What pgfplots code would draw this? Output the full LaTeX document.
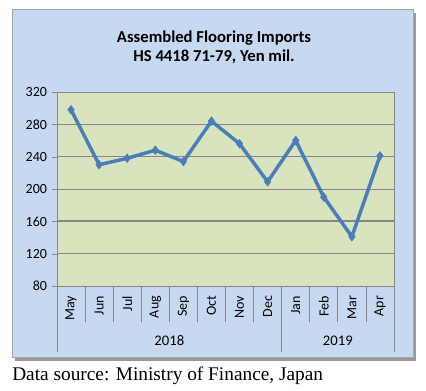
\documentclass[border=0pt]{standalone}
\usepackage{pgfplots}
\pgfplotsset{compat=1.18}
\usepackage{fontspec}
\setmainfont{Carlito}
\newfontfamily\serifsrc{Liberation Serif}
\definecolor{outerbg}{RGB}{198,217,241}
\definecolor{plotbg}{RGB}{215,228,189}
\definecolor{linec}{RGB}{74,126,187}
\definecolor{gridc}{RGB}{134,134,134}
\begin{document}
\begin{tikzpicture}[x=0.75pt,y=0.75pt]
\path[use as bounding box] (0,0) rectangle (426,391);
% shadow and outer box
\fill[gray!80] (15,30) rectangle (416,378);
\filldraw[fill=outerbg,draw=gray!70,line width=0.75pt] (12,33) rectangle (413,381);
\node[font=\bfseries\fontsize{12.5}{14}\selectfont,align=center] at (214,344) {Assembled Flooring Imports\\HS 4418 71-79, Yen mil.};
\begin{axis}[
  at={(42.75pt,78.75pt)}, anchor=south west,
  scale only axis, width=252.75pt, height=145.5pt,
  xmin=-0.5, xmax=11.5, ymin=80, ymax=320,
  ytick={80,120,...,320},
  xtick={0,...,11},
  xticklabels={May,Jun,Jul,Aug,Sep,Oct,Nov,Dec,Jan,Feb,Mar,Apr},
  x tick label style={rotate=90,anchor=east,font=\fontsize{10.5}{12}\selectfont},
  y tick label style={font=\fontsize{10.5}{12}\selectfont},
  /pgf/number format/assume math mode=true,
  major x tick style={draw=none},
  ytick style={draw=gridc},
  ytick pos=left,
  tick align=outside, major tick length=4pt,
  ymajorgrids, grid style={draw=gridc,line width=0.6pt},
  axis background/.style={fill=plotbg},
  axis line style={draw=gridc},
  clip=false,
]
\draw[gridc,line width=1.5pt] (axis cs:-0.5,160) -- (axis cs:11.5,160);
\pgfplotsinvokeforeach{0.5,1.5,2.5,3.5,4.5,5.5,6.5,8.5,9.5,10.5}{
  \draw[gridc,line width=0.5pt] (axis cs:#1,80) -- ([yshift=-27pt]axis cs:#1,80);
}
\pgfplotsinvokeforeach{-0.5,7.5,11.5}{
  \draw[gridc,line width=0.5pt] (axis cs:#1,80) -- ([yshift=-49.5pt]axis cs:#1,80);
}
\node[font=\fontsize{11}{12}\selectfont] at ([yshift=-41.25pt]axis cs:3.5,80) {2018};
\node[font=\fontsize{11}{12}\selectfont] at ([yshift=-41.25pt]axis cs:9.5,80) {2019};
\addplot[linec, line width=2.6pt, mark=diamond*, mark size=3.2pt, mark options={fill=linec,draw=linec,line width=0.5pt}]
  coordinates {(0,298) (1,230) (2,238) (3,248) (4,234) (5,284) (6,256) (7,209) (8,260) (9,190) (10,141) (11,241)};
\end{axis}
\node[anchor=base west,font=\serifsrc\fontsize{14.5}{16}\selectfont,inner sep=0pt] at (12,10) {Data source: Ministry of Finance, Japan};
\end{tikzpicture}
\end{document}
